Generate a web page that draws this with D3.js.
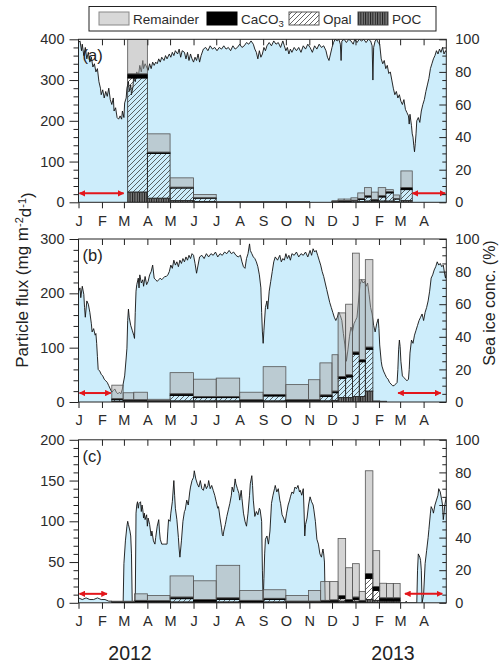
<!DOCTYPE html>
<html>
<head>
<meta charset="utf-8">
<script src="https://d3js.org/d3.v7.min.js"></script>
<style>
  html, body { margin: 0; padding: 0; background: #fff; }
  svg { display: block; font-family: "Liberation Sans", Arial, Helvetica, sans-serif; }
</style>
</head>
<body>
<svg id="chart" width="501" height="667"></svg>
<script>
// ---------------- data ----------------
const monthLabels = ["J","F","M","A","M","J","J","A","S","O","N","D","J","F","M","A"];
const yearLabels = ["2012", "2013"];
const panelLabels = ["(a)", "(b)", "(c)"];
const components = ["POC", "Opal", "CaCO3", "Remainder"];      // stacking order, bottom to top
const legendOrder = ["Remainder", "CaCO3", "Opal", "POC"];
const iceTicks = [0, 20, 40, 60, 80, 100];
const arrowLevel = 5.5;                                           // % sea ice

// Station (a)
const fluxTicksA = [0, 100, 200, 300, 400];
const binStartA = ["2012-03-06","2012-04-01","2012-05-01","2012-06-01","2012-07-01","2012-08-01","2012-09-01","2012-10-01",
  "2012-12-01","2012-12-09","2012-12-17","2012-12-26","2013-01-04","2013-01-13","2013-01-22","2013-01-31","2013-02-10","2013-02-20","2013-03-02"];
const binEndA = ["2012-04-01","2012-05-01","2012-06-01","2012-07-01","2012-08-01","2012-09-01","2012-10-01","2012-11-01",
  "2012-12-09","2012-12-17","2012-12-26","2013-01-04","2013-01-13","2013-01-22","2013-01-31","2013-02-10","2013-02-20","2013-02-28","2013-03-17"];
const pocA   = [25, 10, 4, 2, 0.6, 0.6, 0.6, 0.6, 1, 1, 1, 1, 2, 3, 2, 3, 3, 2, 4];
const opalA  = [280, 110, 31, 8, 0.5, 0.5, 0.5, 0.5, 1, 2, 2, 3, 5, 10, 3, 10, 20, 6, 27];
const caco3A = [10, 3, 2, 1, 0.6, 0.6, 0.6, 0.6, 0.5, 1, 1, 1, 2, 3, 2, 3, 3, 1, 5];
const remA   = [85, 45, 23, 8, 0.5, 0.5, 0.5, 0.5, 1.5, 4, 4, 6, 14, 20, 18, 20, 5, 9, 41];
const arrowsA = [["2012-01-01","2012-03-02"], ["2013-03-16","2013-05-01"]];
const iceA = [[0,98],[2,99],[4,93],[5,97],[7,90],[9,95],[11,88],[13,92],[15,86],[17,89],[19,83],[21,85],[23,80],[25,82],[27,74],
  [29,70],[30,66],[32,69],[34,64],[36,68],[38,65],[40,70],[42,63],[44,60],[46,64],[47,56],[49,58],[51,52],[53,51],[55,53],[57,51],
  [58,56],[60,52],[61,61],[63,64],[64,70],[66,74],[67,68],[69,72],[70,66],[72,71],[73,78],[75,74],[77,80],[79,77],[81,84],[83,80],
  [85,87],[86,82],[88,85],[90,83],[92,81],[94,85],[96,82],[98,86],[100,84],[102,86],[104,85],[106,88],[108,86],[110,89],[113,87],
  [115,90],[117,88],[120,91],[122,89],[124,92],[126,90],[128,93],[131,91],[133,94],[135,89],[137,93],[140,92],[142,88],[144,92],
  [146,87],[148,91],[150,88],[152,86],[154,89],[156,87],[158,91],[160,86],[162,90],[165,94],[168,95],[171,93],[174,96],[177,94],
  [180,95],[183,93],[186,95],[189,94],[192,96],[195,94],[198,95],[201,93],[204,96],[207,94],[210,95],[213,97],[216,95],[219,96],
  [222,98],[225,97],[228,99],[231,97],[233,94],[235,92],[237,88],[239,93],[241,89],[243,91],[245,95],[247,93],[249,96],[252,98],
  [255,96],[258,99],[261,97],[264,98],[267,95],[270,99],[272,96],[274,93],[276,95],[278,91],[280,94],[282,92],[285,95],[288,93],
  [291,95],[294,92],[297,96],[300,94],[303,97],[306,95],[309,92],[312,96],[315,94],[318,97],[321,95],[324,96],[327,93],[329,89],
  [331,87],[333,91],[335,95],[337,98],[339,100],[342,99],[344,100],[346,97],[347,87],[348,99],[351,100],[354,98],[357,100],[360,99],
  [363,97],[365,100],[368,98],[371,100],[374,99],[377,100],[380,98],[383,100],[386,99],[388,96],[389,75],[390,95],[392,99],[394,100],
  [396,98],[398,97],[400,88],[402,85],[404,87],[406,82],[408,84],[410,79],[412,80],[414,75],[416,70],[418,66],[420,68],[422,64],
  [424,66],[426,62],[428,60],[430,63],[432,57],[434,55],[436,53],[437,48],[438,54],[440,47],[441,42],[442,40],[443,35],[444,31],
  [445,36],[446,42],[447,50],[449,52],[451,49],[453,56],[455,60],[457,63],[459,68],[461,72],[463,76],[465,82],[467,85],[469,88],
  [471,90],[473,93],[475,91],[477,94],[479,92],[481,95],[483,91],[485,93],[486,92]];

// Station (b)
const fluxTicksB = [0, 100, 200, 300];
const binStartB = ["2012-02-14","2012-02-29","2012-03-14","2012-04-01","2012-05-01","2012-06-01","2012-07-01","2012-08-01","2012-09-01","2012-10-01",
  "2012-10-31","2012-11-15","2012-12-01","2012-12-09","2012-12-19","2012-12-28","2013-01-06","2013-01-14","2013-01-24","2013-02-02"];
const binEndB = ["2012-02-29","2012-03-14","2012-04-01","2012-05-01","2012-06-01","2012-07-01","2012-08-01","2012-09-01","2012-10-01","2012-10-31",
  "2012-11-15","2012-12-01","2012-12-09","2012-12-19","2012-12-28","2013-01-06","2013-01-14","2013-01-24","2013-02-02","2013-02-11"];
const pocB   = [1, 1, 1, 1, 2, 2, 2, 1, 2, 1, 1, 2, 3, 8, 8, 10, 10, 20, 0.5, 0.4];
const opalB  = [3, 2, 2, 1, 10, 6, 6, 1, 9, 1, 2, 8, 14, 35, 38, 78, 64, 77, 0.5, 0.4];
const caco3B = [2, 1, 1, 1, 3, 2, 2, 2, 3, 2, 1, 3, 3, 4, 4, 4, 4, 4, 0.5, 0.3];
const remB   = [25, 13, 14, 2, 39, 32, 34, 14, 51, 28, 37, 59, 67, 117, 130, 182, 147, 161, 0.5, 0.4];
const arrowsB = [["2012-01-01","2012-02-14"], ["2013-02-25","2013-04-25"]];
const iceB = [[0,68],[2,70],[3,64],[5,71],[7,66],[8,58],[9,52],[11,62],[13,60],[15,55],[17,48],[18,43],[20,45],[22,41],[23,42],
  [24,36],[25,28],[26,20],[28,19],[30,17],[32,16],[34,14],[36,13],[38,12],[40,10],[42,8],[44,6],[46,7],[48,8],[50,6],[52,5],[54,6],
  [56,5],[58,8],[59,11],[61,16],[63,27],[64,33],[65,50],[66,57],[67,52],[69,47],[71,44],[73,41],[74,39],[75,55],[76,68],[77,72],
  [79,76],[80,70],[81,78],[83,73],[85,75],[86,71],[88,77],[90,72],[92,74],[94,78],[96,80],[98,84],[100,76],[102,75],[104,74],
  [106,75],[108,76],[110,75],[112,76],[114,77],[116,77],[118,78],[120,80],[122,84],[124,82],[126,87],[128,84],[130,86],[132,83],
  [134,87],[136,85],[138,88],[140,86],[142,89],[144,87],[146,90],[148,88],[150,91],[152,90],[154,85],[156,79],[158,84],[160,89],
  [163,90],[166,88],[169,91],[172,89],[175,91],[178,90],[181,92],[184,89],[187,91],[190,90],[193,92],[196,91],[199,93],[202,91],
  [205,92],[208,90],[211,89],[214,90],[216,86],[218,83],[220,82],[222,88],[224,91],[226,97],[227,93],[229,91],[231,89],[233,88],
  [235,86],[237,83],[239,78],[241,70],[242,55],[243,43],[244,36],[245,44],[247,58],[249,62],[250,57],[252,68],[254,74],[256,80],
  [258,86],[260,89],[263,87],[266,90],[268,86],[270,88],[272,87],[274,91],[276,88],[278,90],[280,87],[282,91],[285,90],[288,92],
  [291,89],[294,91],[297,90],[300,92],[303,89],[306,93],[308,90],[310,94],[312,92],[314,93],[316,90],[318,87],[320,84],[322,80],
  [324,77],[326,73],[328,69],[330,65],[332,61],[334,58],[336,55],[338,52],[340,50],[342,52],[344,55],[346,53],[348,50],[350,42],
  [352,35],[354,25],[356,32],[358,40],[360,46],[362,43],[364,48],[366,50],[368,52],[370,62],[372,72],[374,75],[376,73],[378,74],
  [380,71],[382,73],[384,66],[386,58],[388,54],[390,47],[392,43],[394,48],[396,51],[397,45],[398,35],[400,25],[401,22],[403,19],
  [405,17],[407,15],[409,14],[411,12],[413,11],[415,10],[417,10],[419,11],[421,12],[422,20],[423,32],[424,38],[425,34],[426,25],
  [428,16],[430,15],[432,14],[434,13],[436,14],[437,20],[438,30],[440,38],[442,36],[444,41],[446,44],[448,47],[450,50],[452,52],
  [454,54],[456,50],[458,55],[460,58],[462,62],[464,68],[466,76],[468,78],[470,81],[472,83],[474,86],[476,84],[478,85],[480,83],
  [482,84],[484,78],[485,76],[486,80]];

// Station (c)
const fluxTicksC = [0, 50, 100, 150, 200];
const binStartC = ["2012-02-14","2012-03-15","2012-04-01","2012-05-01","2012-06-01","2012-07-01","2012-08-01","2012-09-01","2012-10-01",
  "2012-10-31","2012-11-16","2012-11-28","2012-12-09","2012-12-19","2012-12-28","2013-01-06","2013-01-14","2013-01-24","2013-02-02","2013-02-11","2013-02-20"];
const binEndC = ["2012-03-15","2012-04-01","2012-05-01","2012-06-01","2012-07-01","2012-08-01","2012-09-01","2012-10-01","2012-10-31",
  "2012-11-16","2012-11-28","2012-12-09","2012-12-19","2012-12-28","2013-01-06","2013-01-14","2013-01-24","2013-02-02","2013-02-11","2013-02-20","2013-03-01"];
const pocC   = [0.5, 1, 1, 1, 1, 1, 1, 1, 0.5, 0.5, 1, 1, 2, 1, 2, 1, 4, 3, 2, 2, 2];
const opalC  = [0.3, 0.5, 0.5, 4, 1, 3, 0.5, 3, 0.5, 0.5, 1, 1, 3, 1, 2, 1, 26, 12, 1, 1, 1];
const caco3C = [0.7, 1.5, 1, 2, 2, 2, 1.5, 1.5, 1, 1, 1, 1.5, 4, 2, 3, 1, 6, 5, 3, 3, 3];
const remC   = [0.5, 8, 6.5, 26, 23, 40, 12, 10.5, 7, 13, 23, 22.5, 70, 39, 41, 11, 126, 44, 18, 17.6, 17.6];
const arrowsC = [["2012-01-01","2012-02-09"], ["2013-03-06","2013-04-27"]];
const iceC = [[0,3],[5,2],[10,3],[15,2],[20,2],[25,3],[30,2],[35,2],[40,1],[44,1],[46,0],[59,0],[60,24],[62,38],[64,47],[65,50],
  [66,48],[68,44],[69,41],[70,30],[71,0],[75,0],[76,55],[77,60],[78,62],[79,58],[80,61],[82,62],[83,56],[84,60],[85,57],[86,52],
  [87,55],[88,51],[90,54],[91,47],[92,52],[94,48],[96,41],[97,44],[99,38],[101,36],[102,40],[104,47],[106,51],[107,44],[108,39],
  [110,36],[112,36],[114,36],[116,36],[117,36],[118,44],[119,51],[121,50],[122,55],[124,62],[126,75],[127,66],[128,58],[130,51],
  [132,40],[133,33],[134,28],[136,38],[138,50],[140,56],[141,57],[143,63],[145,60],[147,68],[148,71],[150,75],[152,77],[153,81],
  [155,76],[157,73],[159,71],[161,75],[163,70],[165,69],[167,73],[169,70],[171,72],[172,75],[174,70],[176,72],[178,69],[180,66],
  [182,62],[184,58],[185,59],[187,52],[189,46],[190,42],[191,41],[192,44],[194,48],[196,53],[198,57],[200,61],[202,66],[203,71],
  [205,68],[207,76],[208,73],[210,70],[212,67],[213,63],[215,69],[216,64],[218,55],[220,50],[222,47],[224,55],[226,66],[227,73],
  [229,78],[230,72],[231,63],[233,53],[235,56],[237,54],[239,58],[240,57],[242,50],[243,20],[244,0],[245,15],[246,30],[247,39],
  [249,41],[251,36],[253,44],[255,61],[257,66],[259,70],[260,72],[262,68],[264,70],[266,63],[267,61],[269,54],[271,52],[273,49],
  [275,55],[277,60],[279,63],[280,65],[282,68],[284,67],[286,71],[288,70],[290,72],[292,68],[293,69],[295,66],[297,70],[298,57],
  [299,41],[300,48],[302,52],[304,60],[306,65],[308,62],[310,60],[311,57],[313,50],[315,39],[317,36],[319,30],[321,28],[323,33],
  [324,30],[325,25],[326,0],[432,0],[433,1],[434,0],[447,0],[448,20],[449,30],[451,28],[452,26],[453,20],[454,0],[456,5],[458,24],
  [460,32],[462,40],[463,45],[465,55],[466,59],[468,57],[469,55],[471,60],[473,63],[475,66],[476,70],[478,68],[480,63],[481,60],
  [482,51],[483,55],[484,60],[486,65]];

// ---------------- layout ----------------
const parse = d3.timeParse("%Y-%m-%d");
const svg = d3.select("#chart");
const plotLeft = 78.5, plotRight = 446.3, plotHeight = 163;
const panelTops = [39.3, 239, 439.8];
const startDate = parse("2012-01-01"), endDate = parse("2013-05-01");
const iceFill = "rgb(205,237,251)";
const textColor = "#2b2b2b";

const x = d3.scaleTime().domain([startDate, endDate]).range([plotLeft, plotRight]);
const monthTicks = d3.timeMonth.range(startDate, endDate);

const panels = [
  { label: panelLabels[0], fluxTicks: fluxTicksA, minor: 20, binStart: binStartA, binEnd: binEndA,
    poc: pocA, opal: opalA, caco3: caco3A, rem: remA, arrows: arrowsA, ice: iceA },
  { label: panelLabels[1], fluxTicks: fluxTicksB, minor: 20, binStart: binStartB, binEnd: binEndB,
    poc: pocB, opal: opalB, caco3: caco3B, rem: remB, arrows: arrowsB, ice: iceB },
  { label: panelLabels[2], fluxTicks: fluxTicksC, minor: 10, binStart: binStartC, binEnd: binEndC,
    poc: pocC, opal: opalC, caco3: caco3C, rem: remC, arrows: arrowsC, ice: iceC }
];

// ---------------- fills / markers ----------------
const defs = svg.append("defs");
const opalPat = defs.append("pattern").attr("id", "opalHatch")
  .attr("patternUnits", "userSpaceOnUse").attr("width", 5).attr("height", 5);
opalPat.append("path").attr("d", "M-1,1 l2,-2 M0,5 l5,-5 M4,6 l2,-2")
  .attr("stroke", "#333").attr("stroke-width", 0.75).attr("fill", "none");

const pocPat = defs.append("pattern").attr("id", "pocLines")
  .attr("patternUnits", "userSpaceOnUse").attr("width", 2.4).attr("height", 4);
pocPat.append("rect").attr("width", 2.4).attr("height", 4).attr("fill", "#7a7a7a");
pocPat.append("rect").attr("x", 0).attr("width", 1).attr("height", 4).attr("fill", "#1c1c1c");

["arrowStart", "arrowEnd"].forEach((id, k) => {
  defs.append("marker").attr("id", id)
    .attr("viewBox", "0 0 10 10").attr("refX", k ? 9 : 1).attr("refY", 5)
    .attr("markerWidth", 3.2).attr("markerHeight", 3.2).attr("orient", "auto")
    .append("path")
    .attr("d", k ? "M0,0 L10,5 L0,10 Z" : "M10,0 L0,5 L10,10 Z")
    .attr("fill", "#e3161b");
});

const compStyle = {
  POC:       { fill: "url(#pocLines)", stroke: "#2a2a2a", opacity: 1 },
  Opal:      { fill: "url(#opalHatch)", stroke: "#2a2a2a", opacity: 1 },
  CaCO3:     { fill: "#000", stroke: "#000", opacity: 1 },
  Remainder: { fill: "#a9a9a9", stroke: "#555", opacity: 0.5 }
};

// ---------------- panels ----------------
panels.forEach((p, i) => {
  const top = panelTops[i], bottom = top + plotHeight;
  const fluxMax = p.fluxTicks[p.fluxTicks.length - 1];
  const yF = d3.scaleLinear().domain([0, fluxMax]).range([bottom, top]);
  const yI = d3.scaleLinear().domain([0, 100]).range([bottom, top]);

  const clipId = "plotClip" + i;
  defs.append("clipPath").attr("id", clipId).append("rect")
    .attr("x", plotLeft).attr("y", top).attr("width", plotRight - plotLeft).attr("height", plotHeight);

  const g = svg.append("g");
  const inner = g.append("g").attr("clip-path", `url(#${clipId})`);

  // sea ice concentration: shaded area and daily line
  const iceData = p.ice.map(([d, v]) => ({ date: d3.timeDay.offset(startDate, d), v }));
  inner.append("path").datum(iceData)
    .attr("d", d3.area().x(d => x(d.date)).y0(bottom).y1(d => yI(d.v)))
    .attr("fill", iceFill);
  inner.append("path").datum(iceData)
    .attr("d", d3.line().x(d => x(d.date)).y(d => yI(d.v)))
    .attr("fill", "none").attr("stroke", "#111").attr("stroke-width", 0.9)
    .attr("stroke-linejoin", "round");

  // stacked particle flux bars
  const rows = p.binStart.map((s, k) => ({
    start: parse(s), end: parse(p.binEnd[k]),
    POC: p.poc[k], Opal: p.opal[k], CaCO3: p.caco3[k], Remainder: p.rem[k]
  }));
  const stacked = d3.stack().keys(components)(rows);
  stacked.forEach(layer => {
    const st = compStyle[layer.key];
    inner.append("g").selectAll("rect").data(layer).join("rect")
      .attr("x", d => x(d.data.start))
      .attr("width", d => x(d.data.end) - x(d.data.start))
      .attr("y", d => yF(d[1]))
      .attr("height", d => Math.max(0, yF(d[0]) - yF(d[1])))
      .attr("fill", st.fill).attr("fill-opacity", st.opacity)
      .attr("stroke", st.stroke).attr("stroke-width", 0.8);
  });

  // sampling gaps marked with double arrows
  g.append("g").selectAll("line").data(p.arrows).join("line")
    .attr("x1", d => x(parse(d[0])) + 1).attr("x2", d => x(parse(d[1])) - 1)
    .attr("y1", yI(arrowLevel)).attr("y2", yI(arrowLevel))
    .attr("stroke", "#e3161b").attr("stroke-width", 2)
    .attr("marker-start", "url(#arrowStart)").attr("marker-end", "url(#arrowEnd)");

  // axes
  const styleAxis = sel => {
    sel.select(".domain").remove();
    sel.selectAll("line").attr("stroke", "#222");
    sel.selectAll("text").attr("fill", textColor).style("font-size", "14.5px");
  };
  const fluxMinor = d3.range(0, fluxMax + 0.1, p.minor).filter(v => !p.fluxTicks.includes(v));
  g.append("g").attr("transform", `translate(${plotLeft},0)`)
    .call(d3.axisLeft(yF).tickValues(p.fluxTicks).tickSize(9).tickPadding(5)).call(styleAxis);
  g.append("g").attr("transform", `translate(${plotLeft},0)`)
    .call(d3.axisLeft(yF).tickValues(fluxMinor).tickSize(5).tickFormat("")).call(styleAxis);

  const iceMinor = d3.range(0, 101, 5).filter(v => !iceTicks.includes(v));
  g.append("g").attr("transform", `translate(${plotRight},0)`)
    .call(d3.axisRight(yI).tickValues(iceTicks).tickSize(-7).tickPadding(9)).call(styleAxis);
  g.append("g").attr("transform", `translate(${plotRight},0)`)
    .call(d3.axisRight(yI).tickValues(iceMinor).tickSize(-4).tickFormat("")).call(styleAxis);

  g.append("g").attr("transform", `translate(0,${bottom})`)
    .call(d3.axisBottom(x).tickValues(monthTicks).tickSize(6).tickPadding(7)
      .tickFormat((d, k) => monthLabels[k])).call(styleAxis);
  g.append("g").attr("transform", `translate(0,${top})`)
    .call(d3.axisTop(x).tickValues(monthTicks.slice(1)).tickSize(-6).tickFormat("")).call(styleAxis);

  g.append("rect").attr("x", plotLeft).attr("y", top)
    .attr("width", plotRight - plotLeft).attr("height", plotHeight)
    .attr("fill", "none").attr("stroke", "#222").attr("stroke-width", 1);

  g.append("text").attr("x", plotLeft + 4).attr("y", top + 22)
    .attr("fill", "#222").style("font-size", "16.5px").text(p.label);
});

// ---------------- titles ----------------
const leftTitle = svg.append("text")
  .attr("transform", "translate(28,280) rotate(-90)")
  .attr("text-anchor", "middle").attr("fill", "#222").style("font-size", "17px");
leftTitle.append("tspan").text("Particle flux (mg m");
leftTitle.append("tspan").attr("dy", "-0.45em").style("font-size", "11px").text("-2");
leftTitle.append("tspan").attr("dy", "0.45em").text("d");
leftTitle.append("tspan").attr("dy", "-0.45em").style("font-size", "11px").text("-1");
leftTitle.append("tspan").attr("dy", "0.45em").text(")");

svg.append("text")
  .attr("transform", "translate(495,303) rotate(-90)")
  .attr("text-anchor", "middle").attr("fill", "#222").style("font-size", "16px")
  .text("Sea ice conc. (%)");

svg.selectAll("text.year").data(yearLabels).join("text").attr("class", "year")
  .attr("x", (d, k) => [130, 393][k]).attr("y", 660)
  .attr("text-anchor", "middle").attr("fill", "#222").style("font-size", "19.5px")
  .text(d => d);

// ---------------- legend ----------------
const legend = svg.append("g");
legend.append("rect").attr("x", 89).attr("y", 6.5).attr("width", 347).attr("height", 24.5)
  .attr("fill", "#fff").attr("stroke", "#222").attr("stroke-width", 1);
const legendX = [99, 207, 289, 358];
const legendSwatch = {
  Remainder: { fill: "#d8d8d8", stroke: "#888" },
  CaCO3: { fill: "#000", stroke: "#000" },
  Opal: { fill: "url(#opalHatch)", stroke: "#555" },
  POC: { fill: "url(#pocLines)", stroke: "#444" }
};
legendOrder.forEach((key, k) => {
  const item = legend.append("g").attr("transform", `translate(${legendX[k]},0)`);
  if (key === "Opal") {
    item.append("rect").attr("x", 0).attr("y", 12).attr("width", 30).attr("height", 13).attr("fill", "#fff");
  }
  item.append("rect").attr("x", 0).attr("y", 12).attr("width", 30).attr("height", 13)
    .attr("fill", legendSwatch[key].fill).attr("stroke", legendSwatch[key].stroke).attr("stroke-width", 1);
  const t = item.append("text").attr("x", 34).attr("y", 23.5)
    .attr("fill", textColor).style("font-size", "13.5px");
  if (key === "CaCO3") {
    t.append("tspan").text("CaCO");
    t.append("tspan").attr("dy", 3).style("font-size", "9.5px").text("3");
  } else {
    t.text(key);
  }
});
</script>
</body>
</html>
